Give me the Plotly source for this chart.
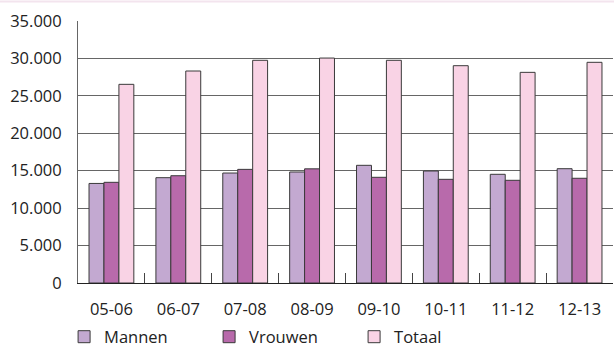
import plotly.graph_objects as go

categories = ["05-06", "06-07", "07-08", "08-09", "09-10", "10-11", "11-12", "12-13"]
mannen = [13300, 14070, 14690, 14830, 15720, 14960, 14520, 15270]
vrouwen = [13450, 14330, 15180, 15250, 14120, 13850, 13720, 13990]
totaal = [26540, 28320, 29750, 30050, 29750, 29030, 28140, 29480]
y_ticks = [0, 5000, 10000, 15000, 20000, 25000, 30000, 35000]

series = [
    ("Mannen", mannen, "#C3A9D1"),
    ("Vrouwen", vrouwen, "#B86AAB"),
    ("Totaal", totaal, "#F9D3E5"),
]

fig = go.Figure()
for name, vals, col in series:
    fig.add_trace(go.Bar(
        x=categories, y=vals, name=name,
        marker=dict(color=col, line=dict(color="#3a3a3a", width=1)),
    ))

font = "Open Sans, Noto Sans, sans-serif"
fig.update_layout(
    width=614, height=347,
    margin=dict(l=78, r=1, t=21, b=64, autoexpand=False),
    paper_bgcolor="white", plot_bgcolor="white",
    separators=",.",
    barmode="group", bargap=0.33, bargroupgap=0,
    font=dict(family=font, size=16.5, color="#222"),
    showlegend=True,
    legend=dict(
        orientation="h", x=-0.026, xanchor="left", y=-0.206, yanchor="middle",
        font=dict(size=16.5, color="#222"), entrywidth=100, traceorder="normal",
        itemclick=False,
    ),
    xaxis=dict(
        type="category", automargin=False,
        showline=True, linecolor="#222", linewidth=1,
        ticks="inside", tickson="boundaries", ticklen=10, tickcolor="#444",
        tickfont=dict(size=16.5, color="#222"), showgrid=False,
        ticklabelstandoff=11,
    ),
    yaxis=dict(
        range=[0, 35000], tickvals=y_ticks, tickformat=",d", automargin=False,
        showgrid=True, gridcolor="#666", gridwidth=1,
        showline=True, linecolor="#666", linewidth=1,
        ticks="", tickfont=dict(size=16.5, color="#222"), ticklabelstandoff=12,
        zeroline=False,
    ),
)
fig.add_shape(type="line", xref="paper", yref="paper", x0=-0.2, x1=1.01,
              y0=1.074, y1=1.074, line=dict(color="#F3E4EE", width=2))
fig.write_html("out.html", config={"displayModeBar": False},
               post_script="document.body.style.margin='0';")
